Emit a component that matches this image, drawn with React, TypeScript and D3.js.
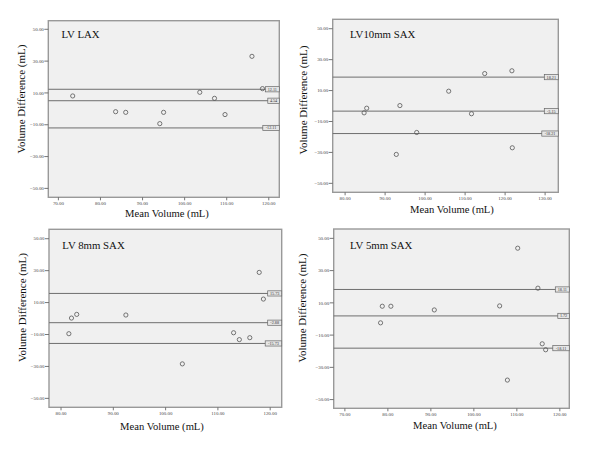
import React from "react";
import * as d3 from "d3";

// ---------- data ----------
const yTicks = [50, 30, 10, -10, -30, -50];

const lvLaxTitle = "LV LAX";
const lvLaxMean = [73.4, 83.6, 86.0, 94.1, 95.0, 103.6, 107.1, 109.6, 116.0, 118.5];
const lvLaxDiff = [8.1, -1.8, -2.2, -9.3, -2.2, 10.4, 6.6, -3.6, 33.0, 12.7];
const lvLaxLines = [12.3, 5.1, -12.0];
const lvLaxLineLabels = ["12.11", "4.54", "-12.11"];
const lvLaxXTicks = [70, 80, 90, 100, 110, 120];

const sax10Title = "LV10mm SAX";
const sax10Mean = [84.75, 85.4, 92.8, 93.7, 97.9, 105.9, 111.6, 114.9, 121.7, 121.8];
const sax10Diff = [-4.4, -1.4, -31.3, 0.3, -17.1, 9.6, -5.0, 21.0, 22.8, -27.0];
const sax10Lines = [18.7, -3.3, -17.8];
const sax10LineLabels = ["18.21", "-3.15", "-18.21"];
const sax10XTicks = [80, 90, 100, 110, 120, 130];

const sax8Title = "LV 8mm SAX";
const sax8Mean = [81.5, 82.0, 83.0, 92.4, 103.2, 113.0, 114.1, 116.1, 117.9, 118.7];
const sax8Diff = [-9.5, 0.3, 2.6, 2.2, -28.4, -8.9, -13.2, -12.0, 28.9, 12.2];
const sax8Lines = [15.73, -2.6, -15.6];
const sax8LineLabels = ["15.73", "-2.88", "-15.73"];
const sax8XTicks = [80, 90, 100, 110, 120];

const sax5Title = "LV 5mm SAX";
const sax5Mean = [78.3, 78.7, 80.7, 90.8, 106.0, 107.8, 110.2, 114.9, 115.9, 116.7];
const sax5Diff = [-2.4, 7.9, 7.9, 5.6, 8.1, -37.9, 43.9, 19.1, -15.4, -19.1];
const sax5Lines = [18.3, 1.9, -18.1];
const sax5LineLabels = ["18.11", "1.72", "-18.11"];
const sax5XTicks = [70, 80, 90, 100, 110, 120];

// ---------- layout ----------
type PanelSpec = {
  title: string;
  mean: number[];
  diff: number[];
  lines: number[];
  lineLabels: string[];
  xTicks: number[];
  x0: number; x1: number; y0: number; y1: number;
  xDom: [number, number]; yDom: [number, number];
  yTitleX: number; yTitleY: number;
  xTitleX: number; xTitleY: number;
  titleX: number; titleY: number;
};

const panels: PanelSpec[] = [
  {
    title: lvLaxTitle, mean: lvLaxMean, diff: lvLaxDiff, lines: lvLaxLines, lineLabels: lvLaxLineLabels, xTicks: lvLaxXTicks,
    x0: 48.3, x1: 279.3, y0: 20.7, y1: 197.3, xDom: [67.6, 122.5], yDom: [-55.6, 55.4],
    yTitleX: 25, yTitleY: 99, xTitleX: 167, xTitleY: 217, titleX: 61.5, titleY: 37.5,
  },
  {
    title: sax10Title, mean: sax10Mean, diff: sax10Diff, lines: sax10Lines, lineLabels: sax10LineLabels, xTicks: sax10XTicks,
    x0: 332.7, x1: 558.3, y0: 19.3, y1: 192.3, xDom: [76.9, 133.3], yDom: [-55.8, 56.1],
    yTitleX: 307, yTitleY: 100, xTitleX: 452, xTitleY: 213, titleX: 350, titleY: 37.5,
  },
  {
    title: sax8Title, mean: sax8Mean, diff: sax8Diff, lines: sax8Lines, lineLabels: sax8LineLabels, xTicks: sax8XTicks,
    x0: 49, x1: 281.7, y0: 229.3, y1: 407.3, xDom: [77.7, 122.2], yDom: [-55.6, 55.9],
    yTitleX: 26, yTitleY: 307.5, xTitleX: 162, xTitleY: 430, titleX: 62.3, titleY: 249.3,
  },
  {
    title: sax5Title, mean: sax5Mean, diff: sax5Diff, lines: sax5Lines, lineLabels: sax5LineLabels, xTicks: sax5XTicks,
    x0: 333.7, x1: 569.3, y0: 229, y1: 408.3, xDom: [67.4, 122.2], yDom: [-55.4, 55.8],
    yTitleX: 306, yTitleY: 308, xTitleX: 455, xTitleY: 429, titleX: 350, titleY: 249.3,
  },
];

const serif = "'Liberation Serif', 'DejaVu Serif', serif";

function Panel({ p }: { p: PanelSpec }) {
  const x = d3.scaleLinear().domain(p.xDom).range([p.x0, p.x1]);
  const y = d3.scaleLinear().domain(p.yDom).range([p.y1, p.y0]);
  const fmt = d3.format(".2f");
  return (
    <g>
      <rect x={p.x0} y={p.y0} width={p.x1 - p.x0} height={p.y1 - p.y0} fill="#f0f0f0" stroke="#999" strokeWidth={1.4} />
      {/* y axis ticks */}
      {yTicks.map((t) => (
        <g key={"y" + t}>
          <line x1={p.x0 - 4} x2={p.x0} y1={y(t)} y2={y(t)} stroke="#666" strokeWidth={0.9} />
          <text x={p.x0 - 4.5} y={y(t) + 1.7} fontSize={4.9} textAnchor="end" fill="#444" fontFamily={serif}>{fmt(t)}</text>
        </g>
      ))}
      {/* x axis ticks */}
      {p.xTicks.map((t) => (
        <g key={"x" + t}>
          <line x1={x(t)} x2={x(t)} y1={p.y1} y2={p.y1 + 3} stroke="#666" strokeWidth={0.9} />
          <text x={x(t)} y={p.y1 + 8} fontSize={4.9} textAnchor="middle" fill="#444" fontFamily={serif}>{fmt(t)}</text>
        </g>
      ))}
      {/* reference lines */}
      {p.lines.map((v, i) => (
        <line key={"l" + i} x1={p.x0} x2={p.x1} y1={y(v)} y2={y(v)} stroke="#6e6e6e" strokeWidth={1} />
      ))}
      {/* points */}
      {p.mean.map((m, i) => (
        <circle key={"c" + i} cx={x(m)} cy={y(p.diff[i])} r={2.1} fill="none" stroke="#555" strokeWidth={0.8} />
      ))}
      {/* line labels */}
      {p.lines.map((v, i) => {
        const w = p.lineLabels[i].length * 2.5 + 1.5;
        return (
          <g key={"b" + i}>
            <rect x={p.x1 - w} y={y(v) - 2.6} width={w} height={5.2} fill="#e6e6e6" stroke="#666" strokeWidth={0.7} />
            <text x={p.x1 - w / 2} y={y(v) + 1.5} fontSize={4.2} textAnchor="middle" fill="#333" fontFamily={serif}>{p.lineLabels[i]}</text>
          </g>
        );
      })}
      {/* titles */}
      <text x={p.titleX} y={p.titleY} fontSize={10.8} fill="#111" fontFamily={serif}>{p.title}</text>
      <text transform={`translate(${p.yTitleX},${p.yTitleY}) rotate(-90)`} fontSize={11} textAnchor="middle" fill="#111" fontFamily={serif}>Volume Difference (mL)</text>
      <text x={p.xTitleX} y={p.xTitleY} fontSize={10.6} textAnchor="middle" fill="#111" fontFamily={serif}>Mean Volume (mL)</text>
    </g>
  );
}

export default function App() {
  return (
    <svg width={600} height={450} style={{ position: "absolute", left: 0, top: 0, background: "#fff" }}>
      <rect width={600} height={450} fill="#fff" />
      {panels.map((p, i) => (
        <Panel key={i} p={p} />
      ))}
    </svg>
  );
}
